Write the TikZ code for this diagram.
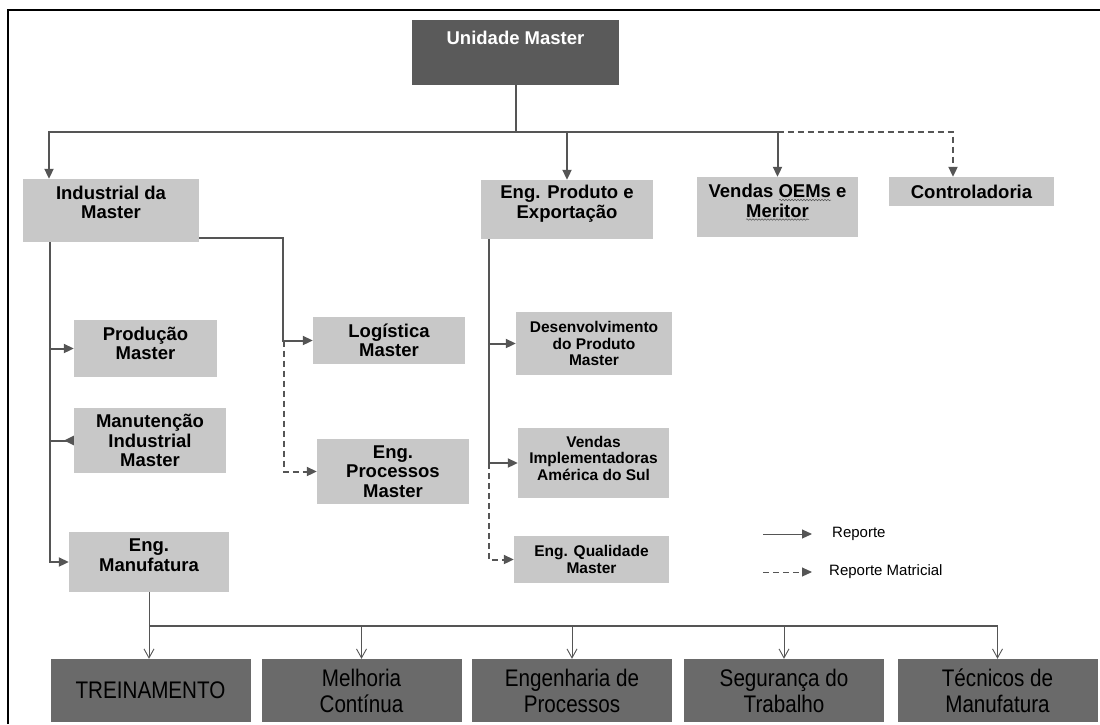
\documentclass[tikz,border=0pt]{standalone}
\usepackage{fontspec}
\setmainfont{Liberation Sans}
\newfontfamily\narrowsans[FakeStretch=0.86]{Liberation Sans}
\usepackage{xcolor}
\definecolor{orgbox}{RGB}{200,200,200}
\definecolor{orgdark}{RGB}{90,90,90}
\definecolor{orgbottom}{RGB}{106,106,106}
\definecolor{orgline}{RGB}{85,85,85}
\usetikzlibrary{arrows.meta,positioning,calc,decorations.pathmorphing}

\begin{document}
\begin{tikzpicture}[x=1pt,y=-1pt,
  lbox/.style={fill=orgbox,inner sep=2pt,align=center,
    font=\fontsize{18.5}{19.5}\selectfont\bfseries},
  sbox/.style={lbox,font=\fontsize{15.5}{16.5}\selectfont\bfseries},
  ubox/.style={fill=orgdark,text=white,font=\fontsize{18.5}{20}\selectfont\bfseries},
  dbox/.style={fill=orgbottom,minimum width=200pt,minimum height=63pt,align=center,
    font=\narrowsans\fontsize{24}{26}\selectfont},
  tup/.style={text depth=#1},
  rep/.style={-{Triangle[length=10pt,width=9pt]},line width=2pt,orgline},
  mat/.style={rep,dash pattern=on 6pt off 4pt},
  tarr/.style={-{Straight Barb[length=9pt,width=10pt]},line width=0.9pt,orgline},
  leg/.style={font=\fontsize{15}{16}\selectfont,inner sep=0pt,anchor=west},
  squig/.style={decorate,decoration={snake,amplitude=0.8pt,segment length=3pt},
    line width=0.5pt,orgline}
]
  \useasboundingbox (0,0) rectangle (1100,724);
  \draw[line width=2pt] (8,724) -- (8,10) -- (1100,10);

  \node[ubox,minimum width=207pt,minimum height=65pt,text height=13pt,text depth=29pt]
    (unid) at (515.5,52.5) {Unidade Master};
  \node[lbox,tup=16pt,minimum width=176pt,minimum height=63pt] (indus) at (111,210.5) {Industrial da\\Master};
  \node[lbox,tup=15.9pt,minimum width=172pt,minimum height=59pt] (engprod) at (567,209.5) {Eng. Produto e\\Exportação};
  \node[lbox,tup=12pt,minimum width=161pt,minimum height=60pt] (vendas) at (777.5,207) {Vendas OEMs e\\Meritor};
  \node[lbox,minimum width=165pt,minimum height=29pt] (control) at (971.5,191.5) {Controladoria};
  \node[lbox,tup=10pt,minimum width=143pt,minimum height=57pt] (prod) at (145.5,348.5) {Produção\\Master};
  \node[lbox,minimum width=152pt,minimum height=65pt] (manut) at (150,440.5) {Manutenção\\Industrial\\Master};
  \node[lbox,tup=14pt,minimum width=160pt,minimum height=60pt] (engmanuf) at (149,562) {Eng.\\Manufatura};
  \node[lbox,minimum width=152pt,minimum height=47pt] (logist) at (389,340.5) {Logística\\Master};
  \node[lbox,minimum width=152pt,minimum height=65pt] (engproc) at (393,471.5) {Eng.\\Processos\\Master};
  \node[sbox,minimum width=156pt,minimum height=63pt] (desenv) at (594,343.5) {Desenvolvimento\\do Produto\\Master};
  \node[sbox,tup=10pt,minimum width=151pt,minimum height=70pt] (vendimp) at (593.5,463) {Vendas\\Implementadoras\\América do Sul};
  \node[sbox,minimum width=155pt,minimum height=47pt] (engqual) at (591.5,559.5) {Eng. Qualidade\\Master};

  \draw[squig] ($(vendas.center)+(1.5,-7)$) -- ++(52,0);
  \draw[squig] ($(vendas.center)+(-31.5,12.5)$) -- ++(63,0);

  % Top level
  \coordinate (hub) at (unid.south |- 0,132);
  \draw[line width=2pt,orgline] (unid.south) -- (hub);
  \draw[rep] (hub) -| ([xshift=-62pt]indus.north);
  \draw[rep] (hub) -| (engprod.north);
  \draw[rep] (hub) -| (vendas.north);
  \draw[mat] (vendas.north |- hub) -| ([xshift=-18.5pt]control.north);

  % Industrial da Master
  \coordinate (ia) at ([xshift=-61pt]indus.south);
  \draw[rep] (ia) |- (engmanuf.west);
  \draw[rep] (ia |- prod.west) -- (prod.west);
  \draw[line width=2pt,orgline,-{Triangle[reversed,length=10pt,width=9pt]}] (ia |- manut.west) -- (manut.west);
  \coordinate (ib) at ([yshift=4pt]indus.south east);
  \draw[rep] (ib) -| ([xshift=-30pt]logist.west) -- (logist.west);
  \draw[mat] ([xshift=-29pt]logist.west) |- (engproc.west);

  % Eng. Produto
  \coordinate (ep) at ([xshift=8pt]engprod.south west);
  \draw[rep] (ep) |- (desenv.west);
  \draw[rep] (ep) |- (vendimp.west);
  \draw[mat] (ep |- vendimp.west) |- (engqual.west);

  % Legend
  \node[leg] (legrep) at (832,534) {Reporte};
  \node[leg] (legmat) at (829,572) {Reporte Matricial};
  \coordinate (legrepstart) at (763,534);
  \coordinate (legmatstart) at (763,572);
  \draw[rep,line width=1pt] (legrepstart) -- ([xshift=-20pt]legrep.west);
  \draw[mat,line width=1pt] (legmatstart) -- ([xshift=-17pt]legmat.west);

  % Manufatura row
  \node[dbox] (treina) at (150.5,690.5) {TREINAMENTO};
  \node[dbox] (melhoria) at (361.5,690.5) {Melhoria\\Contínua};
  \node[dbox] (engenh) at (572,690.5) {Engenharia de\\Processos};
  \node[dbox] (segur) at (784,690.5) {Segurança do\\Trabalho};
  \node[dbox] (tecn) at (997.5,690.5) {Técnicos de\\Manufatura};
  \coordinate (busy) at (0,626);
  \draw[tarr] (engmanuf.south) -- (engmanuf.south |- treina.north);
  \draw[line width=1.6pt,orgline] (engmanuf.south |- busy) -- (tecn.north |- busy);
  \foreach \b in {melhoria,engenh,segur,tecn}
    \draw[tarr] (\b.north |- busy) -- (\b.north);
\end{tikzpicture}
\end{document}
